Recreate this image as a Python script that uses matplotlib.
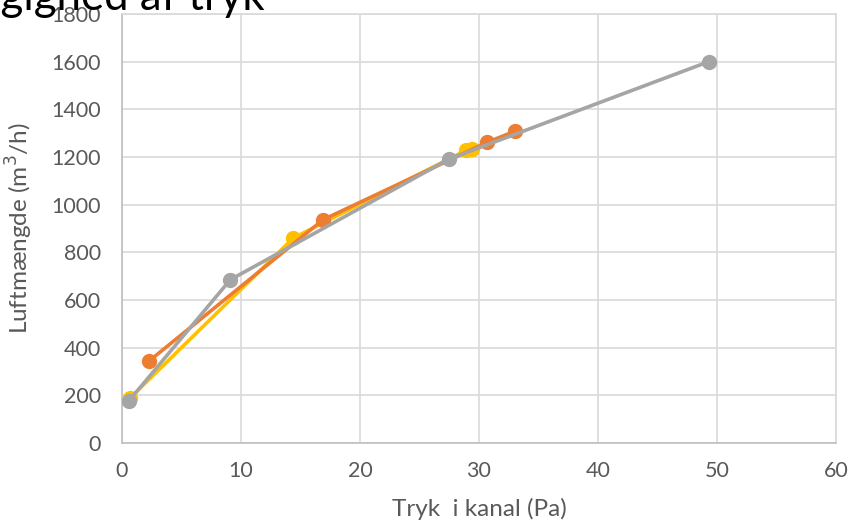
import matplotlib.pyplot as plt

plt.rcParams['font.family'] = ['Lato', 'DejaVu Sans']

# Luftmængde målt ved forskellige tryk, tre måleserier
tryk_gul = [0.7, 14.4, 28.9, 29.4]
luft_gul = [190, 860, 1228, 1234]

tryk_orange = [2.3, 16.9, 30.7, 33.0]
luft_orange = [345, 937, 1262, 1308]

tryk_graa = [0.6, 9.1, 27.5, 49.3]
luft_graa = [178, 685, 1192, 1600]

x_ticks = [0, 10, 20, 30, 40, 50, 60]
y_ticks = [0, 200, 400, 600, 800, 1000, 1200, 1400, 1600, 1800]

fig = plt.figure(figsize=(8.66, 5.29), dpi=100)
ax = fig.add_axes([0.1409, 0.1626, 0.8245, 0.8109])

ax.plot(tryk_gul, luft_gul, color='#FFC000', lw=2.6, marker='o', ms=10, zorder=3)
ax.plot(tryk_orange, luft_orange, color='#ED7D31', lw=2.6, marker='o', ms=10, zorder=4)
ax.plot(tryk_graa, luft_graa, color='#A5A5A5', lw=2.6, marker='o', ms=10, zorder=5)

ax.set_xlim(0, 60)
ax.set_ylim(0, 1800)
ax.set_xticks(x_ticks)
ax.set_yticks(y_ticks)
ax.grid(True, color='#D9D9D9', lw=1.2)
ax.set_axisbelow(True)
for side in ['top', 'right']:
    ax.spines[side].set_color('#D9D9D9')
    ax.spines[side].set_linewidth(1.2)
for side in ['left', 'bottom']:
    ax.spines[side].set_color('#BFBFBF')
    ax.spines[side].set_linewidth(1.2)
ax.tick_params(length=0, labelsize=15.5, labelcolor='#595959')
ax.tick_params(axis='y', pad=15)
ax.tick_params(axis='x', pad=13)

ax.set_xlabel('Tryk  i kanal (Pa)', fontsize=17.5, color='#595959', labelpad=12)
ax.set_ylabel('Luftmængde (m$^3$/h)', fontsize=17.5, color='#595959', labelpad=12)

fig.text(265 / 866, 1 - 10 / 529, 'Luftmængde i afhængighed af tryk',
         ha='right', va='baseline', fontsize=31.5, color='black')

fig.savefig('out.png', dpi=100)
